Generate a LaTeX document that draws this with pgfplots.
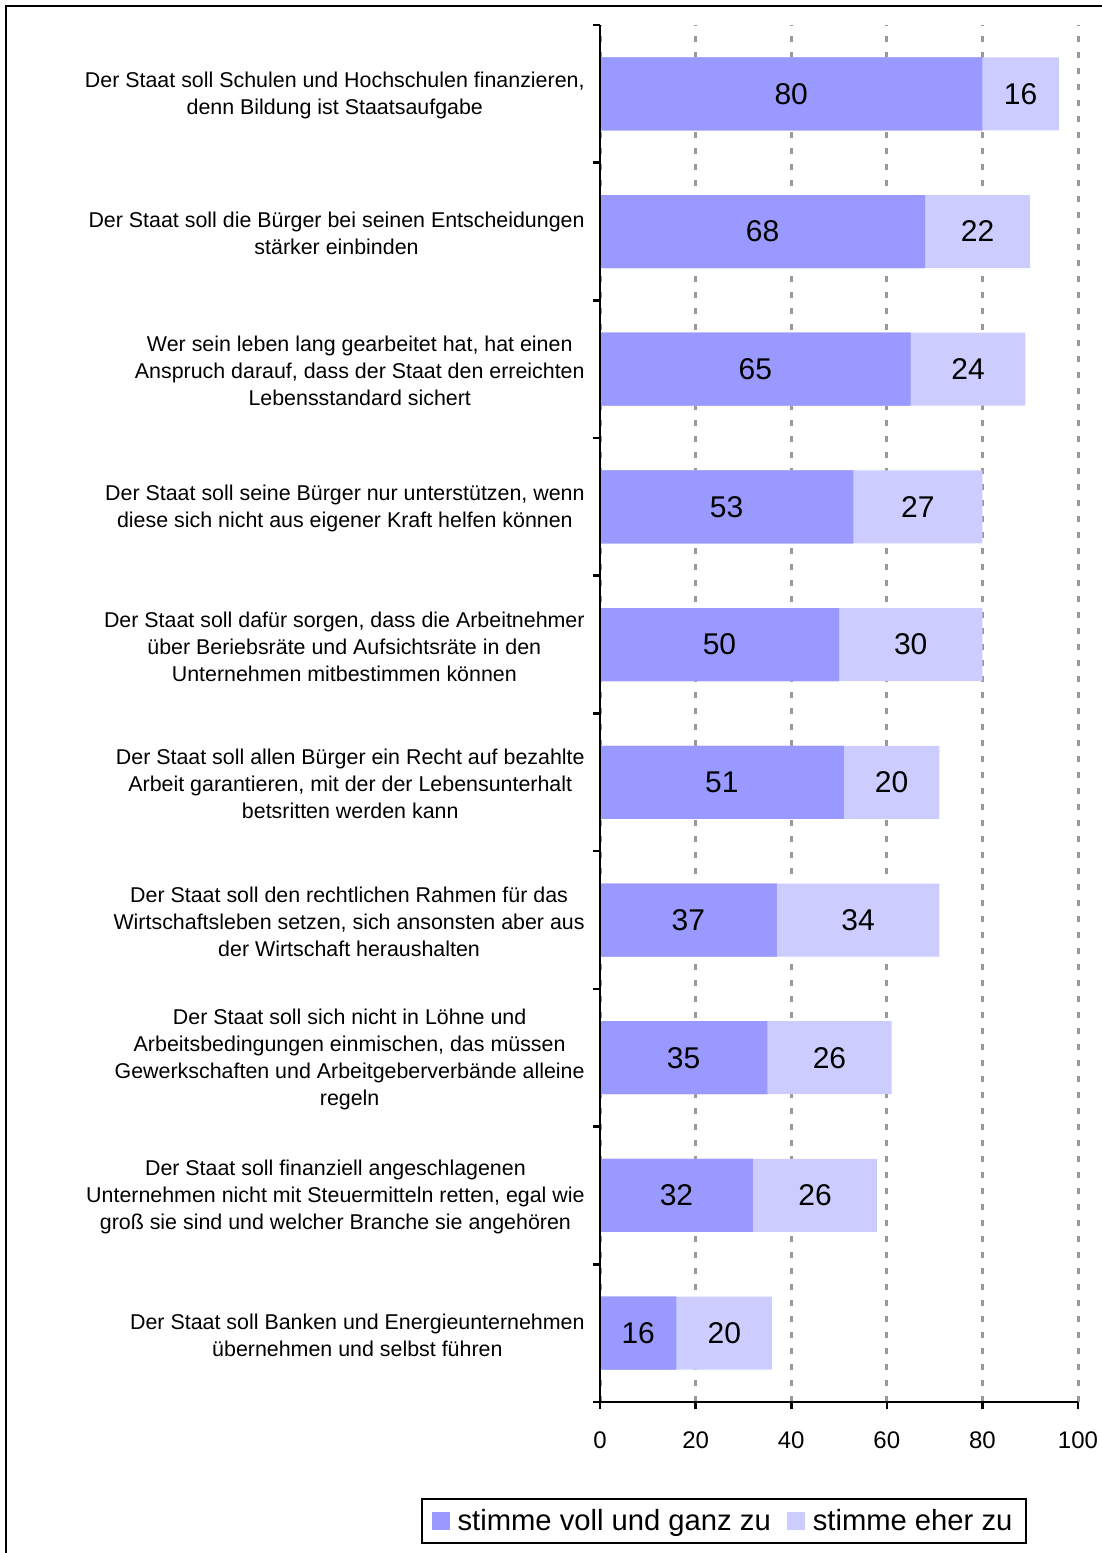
\documentclass[border=0pt]{standalone}
\usepackage{pgfplots}
\pgfplotsset{compat=1.18}
\usepackage{pgfplotstable}
\usepackage{fontspec}
\setmainfont{Liberation Sans}
\definecolor{voll}{HTML}{9999FF}
\definecolor{eher}{HTML}{CCCCFF}
\definecolor{gridgray}{HTML}{999999}
\pgfplotstableread{
idx voll eher
9 80 16
8 68 22
7 65 24
6 53 27
5 50 30
4 51 20
3 37 34
2 35 26
1 32 26
0 16 20
}\datatable
\begin{document}
\begin{tikzpicture}
\useasboundingbox (0,0) rectangle (551pt,776.5pt);
\draw[line width=1pt] (3pt,-5pt) -- (3pt,773.5pt) -- (560pt,773.5pt);
\begin{axis}[
  at={(300pt,75.5pt)}, anchor=south west,
  scale only axis, width=239pt, height=688.5pt,
  xmin=0, xmax=100, ymin=-0.5, ymax=9.5,
  axis x line*=bottom, axis y line*=left,
  axis line style={line width=1.3pt, black, -},
  tick align=outside,
  major tick length=3.5pt, minor tick length=3.5pt,
  xtick={0,20,...,100},
  ytick={0,...,9},
  minor ytick={-0.5,0.5,...,9.5},
  every tick/.style={line width=1.3pt, black},
  major y tick style={draw=none},
  minor y tick style={line width=1.3pt, black},
  xmajorgrids,
  major x grid style={gridgray, line width=1.5pt, dash pattern=on 3pt off 5pt},
  /pgf/number format/assume math mode=true,
  xticklabel style={font=\fontsize{12}{14}\selectfont, yshift=-8pt},
  yticklabel style={font=\fontsize{10.7}{13.5}\selectfont, align=center, inner sep=0pt, anchor=east, xshift=-4pt, yshift=-1pt},
  yticklabels={
    {Der Staat soll Banken und Energieunternehmen\\übernehmen und selbst führen},
    {Der Staat soll finanziell angeschlagenen\\Unternehmen nicht mit Steuermitteln retten, egal wie\\groß sie sind und welcher Branche sie angehören},
    {Der Staat soll sich nicht in Löhne und\\Arbeitsbedingungen einmischen, das müssen\\Gewerkschaften und Arbeitgeberverbände alleine\\regeln},
    {Der Staat soll den rechtlichen Rahmen für das\\Wirtschaftsleben setzen, sich ansonsten aber aus\\der Wirtschaft heraushalten},
    {Der Staat soll allen Bürger ein Recht auf bezahlte\\Arbeit garantieren, mit der der Lebensunterhalt\\betsritten werden kann},
    {Der Staat soll dafür sorgen, dass die Arbeitnehmer\\über Beriebsräte und Aufsichtsräte in den\\Unternehmen mitbestimmen können},
    {Der Staat soll seine Bürger nur unterstützen, wenn\\diese sich nicht aus eigener Kraft helfen können},
    {Wer sein leben lang gearbeitet hat, hat einen\\Anspruch darauf, dass der Staat den erreichten\\Lebensstandard sichert},
    {Der Staat soll die Bürger bei seinen Entscheidungen\\stärker einbinden},
    {Der Staat soll Schulen und Hochschulen finanzieren,\\denn Bildung ist Staatsaufgabe}
  },
  legend columns=2,
  legend style={at={(axis description cs:0.2594,-0.0864)}, anchor=center,
    draw=black, line width=1pt, font=\fontsize{14.6}{17}\selectfont,
    inner xsep=5pt, inner ysep=3pt,
    /tikz/every even column/.append style={column sep=6pt}},
  legend image code/.code={\fill[#1] (0pt,-4.5pt) rectangle (9pt,4.5pt); \path (11pt,0pt);},
  legend cell align=left,
]
\addplot[xbar, bar width=36.5pt, bar shift=0pt, fill=voll, draw=none] table[x=voll, y=idx] {\datatable};
\addlegendentry{stimme voll und ganz zu}
\addplot[xbar, bar width=36.5pt, bar shift=0pt, fill=eher, draw=none] table[x expr=\thisrow{voll}+\thisrow{eher}, y=idx] {\datatable};
\addlegendentry{stimme eher zu}
\addplot[xbar, bar width=36.5pt, bar shift=0pt, fill=voll, draw=none, forget plot] table[x=voll, y=idx] {\datatable};
\addplot[only marks, mark=none, forget plot, nodes near coords, point meta=explicit,
  nodes near coords style={anchor=center, font=\fontsize{15}{18}\selectfont, text=black}]
  table[x expr=\thisrow{voll}/2, y=idx, meta=voll] {\datatable};
\addplot[only marks, mark=none, forget plot, nodes near coords, point meta=explicit,
  nodes near coords style={anchor=center, font=\fontsize{15}{18}\selectfont, text=black}]
  table[x expr=\thisrow{voll}+\thisrow{eher}/2, y=idx, meta=eher] {\datatable};
\end{axis}
\draw[line width=1.3pt, black, solid] (300pt,764pt) -- (300pt,75.5pt) -- (539pt,75.5pt);
\draw[line width=1.3pt, black, solid] (296.5pt,75.5pt) -- (300pt,75.5pt);
\end{tikzpicture}
\end{document}
